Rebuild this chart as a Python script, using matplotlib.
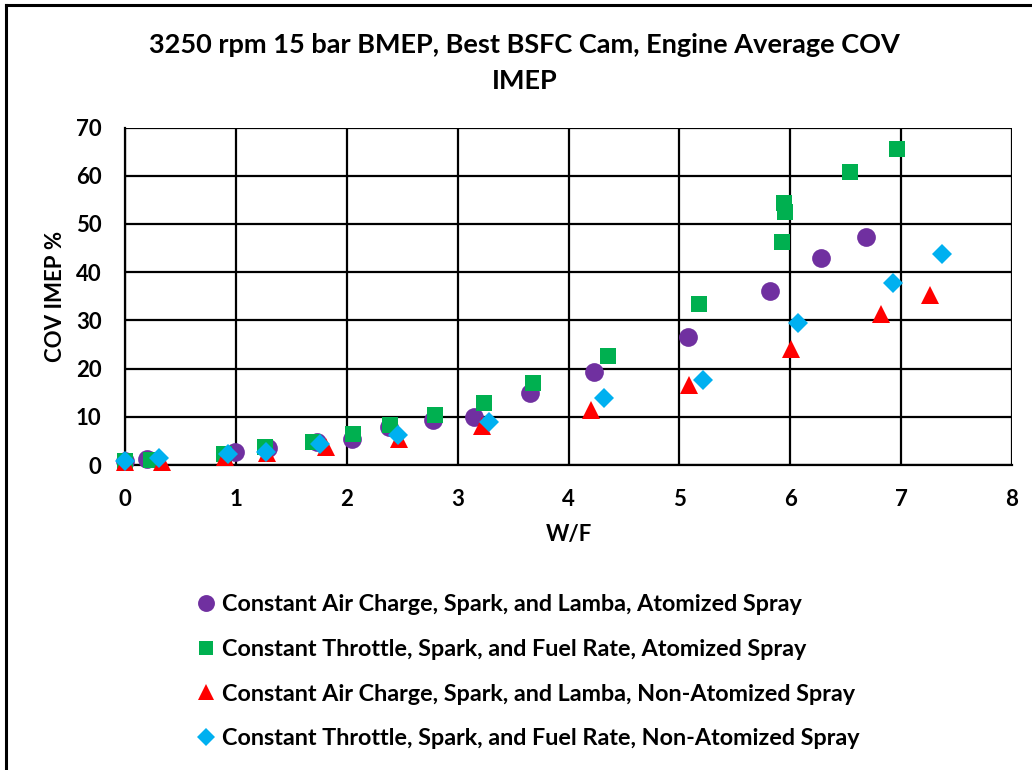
import matplotlib
matplotlib.use("Agg")
import matplotlib.pyplot as plt
from matplotlib.lines import Line2D

plt.rcParams['font.family'] = ['Lato', 'DejaVu Sans']
plt.rcParams['font.weight'] = 'bold'

# W/F vs COV IMEP for each test condition
air_atom_x = [0.0, 0.20, 0.99, 1.29, 1.73, 2.05, 2.38, 2.78, 3.15, 3.65, 4.23, 5.08, 5.82, 6.28, 6.68]
air_atom_y = [0.8, 1.2, 2.6, 3.5, 4.8, 5.3, 7.9, 9.3, 9.9, 14.9, 19.2, 26.6, 36.0, 43.0, 47.2]

thr_atom_x = [0.0, 0.23, 0.89, 1.26, 1.70, 2.06, 2.39, 2.80, 3.24, 3.68, 4.36, 5.18, 5.93, 5.94, 5.95, 6.54, 6.96]
thr_atom_y = [0.9, 1.0, 2.3, 3.8, 4.8, 6.4, 8.3, 10.4, 12.9, 17.1, 22.6, 33.4, 46.3, 54.4, 52.4, 60.8, 65.5]

air_non_x = [0.0, 0.33, 0.90, 1.28, 1.81, 2.47, 3.22, 4.20, 5.09, 6.01, 6.82, 7.26]
air_non_y = [0.6, 0.7, 1.6, 2.4, 3.8, 5.4, 8.0, 11.4, 16.6, 24.1, 31.3, 35.3]

thr_non_x = [0.0, 0.31, 0.93, 1.27, 1.76, 2.46, 3.28, 4.32, 5.21, 6.07, 6.93, 7.37]
thr_non_y = [0.8, 1.5, 2.3, 2.8, 4.4, 6.2, 8.9, 14.0, 17.6, 29.5, 37.8, 43.8]

labels = [
    "Constant Air Charge, Spark, and Lamba, Atomized Spray",
    "Constant Throttle, Spark, and Fuel Rate, Atomized Spray",
    "Constant Air Charge, Spark, and Lamba, Non-Atomized Spray",
    "Constant Throttle, Spark, and Fuel Rate, Non-Atomized Spray",
]

fig = plt.figure(figsize=(10.32, 7.70), dpi=100)
ax = fig.add_axes([125 / 1032, 1 - 465 / 770, (1012 - 125) / 1032, (465 - 127.6) / 770])

series = [
    (air_atom_x, air_atom_y, 'o', '#7030A0', 13.5),
    (thr_atom_x, thr_atom_y, 's', '#00B050', 11.5),
    (air_non_x, air_non_y, '^', '#FF0000', 12.5),
    (thr_non_x, thr_non_y, 'D', '#00B0F0', 10.0),
]
for (x, y, m, c, ms), lab in zip(series, labels):
    ax.plot(x, y, linestyle='none', marker=m, color=c, markersize=ms,
            markeredgewidth=0, label=lab, zorder=3, clip_on=False)

ax.set_xlim(0, 8)
ax.set_ylim(0, 70)
ax.set_xticks(range(0, 9))
ax.set_yticks(range(0, 71, 10))
ax.grid(True, color='black', linewidth=1.6)
ax.set_axisbelow(True)
for s in ax.spines.values():
    s.set_visible(False)
ax.spines['left'].set_visible(True)
ax.spines['bottom'].set_visible(True)
ax.spines['left'].set_linewidth(1.6)
ax.spines['bottom'].set_linewidth(1.6)
ax.tick_params(length=0, labelsize=16, pad=17)
for t in ax.get_xticklabels() + ax.get_yticklabels():
    t.set_fontweight('bold')

ax.set_xlabel("W/F", fontsize=16, fontweight='bold', labelpad=10)
ax.set_ylabel("COV IMEP %", fontsize=16, fontweight='bold', labelpad=7)

fig.text(0.508, 1 - 63 / 770, "3250 rpm 15 bar BMEP, Best BSFC Cam, Engine Average COV\nIMEP",
         ha='center', va='center', fontsize=19.5, fontweight='bold', linespacing=1.62)

handles = [Line2D([], [], linestyle='none', marker=m, color=c, markersize=ms * 0.9,
                  markeredgewidth=0) for (_, _, m, c, ms) in series]
fig.legend(handles, labels, loc='upper left', bbox_to_anchor=(176 / 1032, 1 - 573 / 770),
           frameon=False, handlelength=0.8, handletextpad=0.25,
           labelspacing=1.02, prop={'weight': 'bold', 'size': 16.8})

# frame lines along the left and top of the figure
fig.add_artist(Line2D([6 / 1032, 6 / 1032], [0, 1 - 5 / 770], color='black', linewidth=2.2,
                      transform=fig.transFigure))
fig.add_artist(Line2D([6 / 1032, 1], [1 - 5 / 770, 1 - 5 / 770], color='black', linewidth=2.2,
                      transform=fig.transFigure))

fig.savefig("out.png", dpi=100, facecolor='white')
